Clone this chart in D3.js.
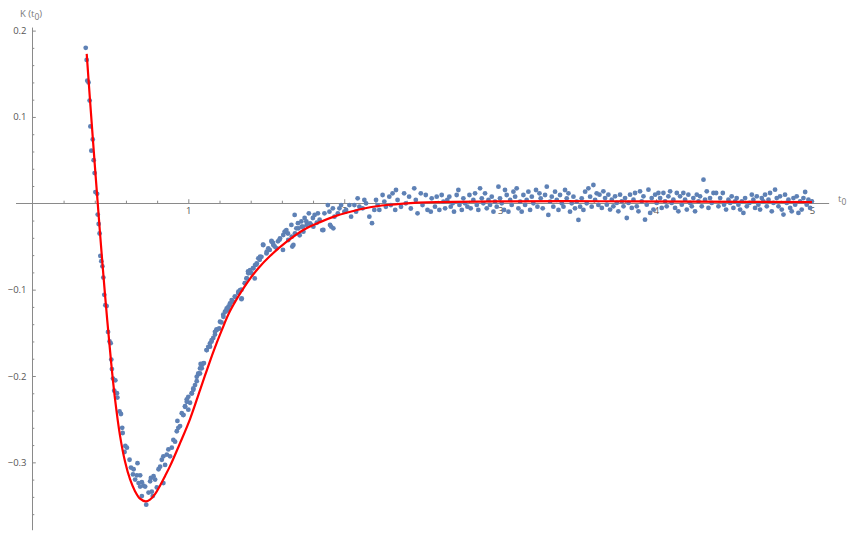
<!DOCTYPE html>
<html>
<head>
<meta charset="utf-8">
<title>K(t0) fit</title>
<script src="https://cdnjs.cloudflare.com/ajax/libs/d3/7.8.5/d3.min.js"></script>
<style>
body { margin: 0; background: #fff; }
svg text { font-family: "Open Sans", sans-serif; }
</style>
</head>
<body>
<svg id="chart" width="865" height="538"></svg>
<script>
// tick values
var xMajor = [1, 2, 3, 4, 5];
var xMinor = [0.2, 0.4, 0.6, 0.8, 1.2, 1.4, 1.6, 1.8, 2.2, 2.4, 2.6, 2.8,
              3.2, 3.4, 3.6, 3.8, 4.2, 4.4, 4.6, 4.8];
var yMajor = [-0.3, -0.2, -0.1, 0.1, 0.2];
var yMinor = [-0.36, -0.34, -0.32, -0.28, -0.26, -0.24, -0.22, -0.18, -0.16, -0.14, -0.12,
              -0.08, -0.06, -0.04, -0.02, 0.02, 0.04, 0.06, 0.08, 0.12, 0.14, 0.16, 0.18];

// measured points, [t0, K]
var descentPts = [[0.342,0.180],[0.348,0.166],[0.352,0.142],[0.360,0.140],[0.367,0.119],[0.372,0.089],
  [0.378,0.061],[0.387,0.074],[0.393,0.050],[0.399,0.035],[0.404,0.013],[0.415,0.011],[0.419,-0.013],
  [0.425,-0.024],[0.431,-0.035],[0.436,-0.061],[0.442,-0.067],[0.449,-0.073],[0.455,-0.086],[0.461,-0.106],
  [0.468,-0.118],[0.476,-0.119],[0.485,-0.149],[0.495,-0.160],[0.502,-0.162],[0.506,-0.181],[0.510,-0.192],
  [0.517,-0.203],[0.525,-0.217],[0.532,-0.205],[0.542,-0.220],[0.545,-0.225],[0.559,-0.241],[0.568,-0.244],
  [0.576,-0.260],[0.579,-0.266],[0.591,-0.288],[0.596,-0.281]];

var troughPts = [[0.606,-0.283],[0.623,-0.297],[0.632,-0.306],[0.645,-0.314],[0.649,-0.308],[0.659,-0.320],
  [0.670,-0.315],[0.674,-0.301],[0.681,-0.324],[0.691,-0.315],[0.691,-0.328],[0.702,-0.323],[0.702,-0.339],
  [0.712,-0.327],[0.723,-0.328],[0.730,-0.349],[0.745,-0.335],[0.755,-0.322],[0.760,-0.318],[0.766,-0.334],
  [0.772,-0.339],[0.777,-0.316],[0.787,-0.320],[0.798,-0.329],[0.809,-0.308],[0.819,-0.305],[0.830,-0.297],
  [0.840,-0.324],[0.840,-0.293],[0.851,-0.303],[0.862,-0.291],[0.872,-0.285],[0.883,-0.293],[0.894,-0.283],
  [0.904,-0.274],[0.915,-0.276],[0.926,-0.264],[0.930,-0.252],[0.936,-0.260],[0.947,-0.258],[0.958,-0.243],
  [0.968,-0.245],[0.979,-0.235],[0.990,-0.227],[1.000,-0.239],[1.011,-0.231],[1.022,-0.220],[1.032,-0.216]];

var risePts = [[1.054,-0.206],[1.064,-0.198],[1.075,-0.197],[1.079,-0.186],[1.086,-0.191],[1.100,-0.185],
  [1.117,-0.170],[1.139,-0.166],[1.149,-0.160],[1.160,-0.156],[1.171,-0.152],[1.181,-0.146],[1.198,-0.145],
  [1.213,-0.138],[1.224,-0.129],[1.241,-0.125],[1.256,-0.123],[1.266,-0.118],[1.288,-0.114],[1.298,-0.108],
  [1.320,-0.104],[1.341,-0.100],[1.341,-0.111],[1.362,-0.0925],[1.373,-0.087],[1.383,-0.079],[1.405,-0.081],
  [1.415,-0.075],[1.426,-0.087],[1.437,-0.071],[1.458,-0.0655],[1.469,-0.062],[1.479,-0.048],[1.501,-0.058],
  [1.522,-0.054],[1.543,-0.046]];

var bandPts = [[0.968,-0.2453],[0.979,-0.2357],[0.990,-0.2299],[1.000,-0.2241],[1.022,-0.2202],[1.032,-0.2144],
  [1.043,-0.2105],[1.054,-0.2009],[1.064,-0.1970],[1.075,-0.1912],[1.086,-0.1874],[1.096,-0.1854],
  [1.118,-0.1700],[1.128,-0.1662],[1.139,-0.1622],[1.150,-0.1584],[1.171,-0.1488],[1.182,-0.1468],
  [1.203,-0.1372],[1.225,-0.1314],[1.235,-0.1256],[1.246,-0.1217],[1.257,-0.1198],[1.267,-0.1159],
  [1.278,-0.1121],[1.300,-0.1082],[1.321,-0.1024],[1.332,-0.1005],[1.342,-0.1101],[1.364,-0.0927],
  [1.375,-0.0869],[1.385,-0.0811],[1.396,-0.0773],[1.417,-0.0753],[1.428,-0.0715],[1.439,-0.0695],
  [1.449,-0.0637],[1.460,-0.0619],[1.481,-0.0483],[1.503,-0.0561],[1.513,-0.0521],[1.535,-0.0445],
  [1.545,-0.0483],[1.567,-0.0521],[1.588,-0.0406],[1.609,-0.0367],[1.620,-0.0329],[1.641,-0.0425],
  [1.663,-0.0387],[1.674,-0.0483],[1.684,-0.0348],[1.706,-0.0290],[1.727,-0.0271],[1.738,-0.0329],
  [1.759,-0.0251],[1.781,-0.0232],[1.802,-0.0271],[1.824,-0.0225],[1.866,-0.0309],[1.909,-0.0251],
  [1.930,-0.0290]];

var kneePts = [[1.533,-0.0436],[1.554,-0.050],[1.575,-0.044],[1.586,-0.042],[1.607,-0.054],[1.618,-0.033],
  [1.629,-0.031],[1.639,-0.035],[1.661,-0.025],[1.667,-0.050],[1.682,-0.0135],[1.693,-0.029],[1.703,-0.023],
  [1.714,-0.037],[1.725,-0.021],[1.735,-0.027],[1.746,-0.017],[1.757,-0.021],[1.773,-0.0116],[1.788,-0.025],
  [1.799,-0.017],[1.810,-0.0135],[1.831,-0.0116],[1.842,-0.019],[1.859,-0.031],[1.873,-0.0116],[1.895,-0.002],
  [1.905,-0.0097],[1.916,-0.027],[1.927,-0.0058],[1.937,-0.0155],[1.959,-0.0116],[1.969,-0.0058],[1.980,-0.002],
  [2.001,-0.0097],[2.012,-0.0077],[2.033,-0.002],[2.044,-0.0155],[2.065,-0.002],[2.076,-0.0097],[2.086,0.0058],
  [2.097,-0.004],[2.118,-0.0058],[2.129,0.0038],[2.140,0],[2.161,-0.0155],[2.178,-0.023],[2.193,-0.0077],
  [2.204,0.0038],[2.214,-0.002],[2.225,-0.0077],[2.246,0.0096],[2.257,0.002],[2.267,-0.004],[2.289,0.0077],
  [2.299,-0.002],[2.310,0.0116],[2.327,-0.0077],[2.332,0.0154],[2.342,0.0038],[2.364,-0.004],[2.384,0.0116],
  [2.395,0],[2.416,0.0077],[2.427,-0.006],[2.449,0.0173],[2.459,0.0038],[2.470,-0.0116],[2.491,0.0116],
  [2.502,-0.002],[2.523,0.0096],[2.534,-0.0077],[2.555,-0.0097]];

var tailPtsA = [[2.561,0.0058],[2.582,-0.0039],[2.593,0.0077],[2.610,-0.0077],[2.625,0.0096],[2.636,0.0019],
  [2.647,-0.0058],[2.661,0.0039],[2.674,0.0077],[2.683,-0.0039],[2.696,0.0],[2.704,-0.0097],[2.721,0.0096],
  [2.732,0.0154],[2.739,-0.0019],[2.754,-0.0077],[2.764,0.0058],[2.775,0.0],[2.790,-0.0039],[2.803,0.0096],
  [2.811,-0.0058],[2.828,0.0039],[2.839,0.0116],[2.850,-0.0019],[2.860,-0.0077],[2.871,0.0174],[2.882,0.0058],
  [2.892,0.0],[2.903,0.0116],[2.914,-0.0058],[2.925,0.0039],[2.935,-0.0019],[2.946,0.0077],[2.957,-0.0097],
  [2.967,0.0019],[2.978,-0.0039],[2.989,0.0193],[2.999,0.0058],[3.010,0.0],[3.025,-0.0077],[3.031,0.0154],
  [3.042,0.0096],[3.053,-0.0097],[3.064,0.0039],[3.074,-0.0019],[3.085,0.0135],[3.096,0.0077],[3.106,0.0174],
  [3.117,-0.0058],[3.128,0.0019],[3.138,-0.0097],[3.149,0.0096],[3.160,-0.0019],[3.170,0.0039],[3.181,0.0135],
  [3.192,-0.0077],[3.203,0.0077],[3.213,0.0],[3.230,0.0154],[3.239,-0.0039],[3.252,0.0116],[3.260,0.0058],
  [3.273,-0.0058],[3.288,0.0096],[3.299,0.0193],[3.309,-0.0135],[3.320,0.0019],[3.331,0.0077],[3.341,-0.0039],
  [3.352,0.0135],[3.363,0.0039],[3.374,-0.0077],[3.384,0.0096],[3.395,0.0],[3.406,-0.0039],[3.416,0.0154],
  [3.427,0.0058],[3.438,0.0116],[3.448,-0.0097],[3.459,0.0],[3.470,0.0077],[3.480,-0.0058],[3.491,0.0019],
  [3.502,-0.0193],[3.513,-0.0039],[3.523,0.0058],[3.534,-0.0077],[3.545,0.0135],[3.555,0.0],[3.566,0.0174],
  [3.577,0.0077],[3.587,-0.0039],[3.598,0.0212],[3.609,0.0039],[3.619,0.0116],[3.630,-0.0019]];

var tailPtsB = [[3.637,0.0100],[3.652,-0.0054],[3.662,0.0139],[3.673,0.0061],[3.684,-0.0016],[3.694,0.0100],
  [3.705,-0.0073],[3.716,0.0042],[3.726,-0.0035],[3.737,0.0081],[3.748,0.0004],[3.758,-0.0093],[3.769,0.0100],
  [3.780,0.0023],[3.791,-0.0035],[3.801,0.0061],[3.812,-0.0170],[3.823,0.0004],[3.833,0.0100],[3.844,-0.0054],
  [3.855,0.0042],[3.865,0.0119],[3.876,-0.0035],[3.887,-0.0093],[3.897,0.0139],[3.908,0.0023],[3.919,0.0081],
  [3.929,-0.0190],[3.940,-0.0016],[3.951,0.0158],[3.962,-0.0112],[3.972,0.0061],[3.983,-0.0073],[3.994,0.0100],
  [4.004,0.0004],[4.015,0.0119],[4.026,0.0061],[4.036,-0.0054],[4.047,0.0119],[4.058,0.0023],[4.068,-0.0035],
  [4.079,0.0081],[4.090,0.0139],[4.100,0.0004],[4.111,0.0042],[4.122,-0.0054],[4.133,0.0119],[4.143,-0.0093],
  [4.154,0.0081],[4.165,-0.0016],[4.175,0.0119],[4.186,0.0042],[4.197,-0.0073],[4.207,0.0100],[4.218,0.0004],
  [4.229,-0.0035],[4.239,0.0061],[4.250,-0.0093],[4.261,0.0100],[4.272,0.0023],[4.282,0.0081],[4.293,-0.0035],
  [4.304,0.0274],[4.314,0.0042],[4.325,0.0139],[4.336,-0.0054],[4.346,0.0061],[4.357,0.0004],[4.368,0.0119]];

var tailPtsC = [[4.385,0.0119],[4.400,-0.0035],[4.411,0.0061],[4.428,0.0119],[4.436,-0.0016],[4.449,-0.0073],
  [4.464,0.0042],[4.475,0.0004],[4.485,0.0081],[4.496,-0.0054],[4.507,0.0023],[4.517,0.0061],[4.528,-0.0016],
  [4.539,-0.0073],[4.550,0.0023],[4.560,-0.0112],[4.571,0.0061],[4.582,-0.0035],[4.599,0.0004],[4.614,0.0100],
  [4.624,0.0042],[4.635,-0.0054],[4.646,0.0081],[4.656,-0.0016],[4.667,-0.0073],[4.678,0.0061],[4.688,0.0023],
  [4.699,0.0100],[4.710,-0.0035],[4.721,0.0042],[4.731,0.0119],[4.742,-0.0093],[4.753,0.0004],[4.763,0.0158],
  [4.774,0.0061],[4.785,-0.0035],[4.795,0.0081],[4.806,-0.0073],[4.817,-0.0131],[4.827,0.0100],[4.838,0.0004],
  [4.849,0.0042],[4.860,-0.0054],[4.870,-0.0093],[4.881,0.0061],[4.892,-0.0016],[4.902,0.0081],[4.913,-0.0112],
  [4.924,0.0023],[4.934,-0.0073],[4.945,0.0061],[4.956,0.0131],[4.966,-0.0016],[4.977,0.0042],[4.988,-0.0054],
  [4.999,0.0023]];

// fitted curve, [t0, K]
var fitCurve = [[0.3483,0.1730],[0.3695,0.1195],[0.4015,0.0413],[0.4336,-0.0344],[0.4657,-0.1057],
  [0.5042,-0.1827],[0.5298,-0.2265],[0.5619,-0.2690],[0.5940,-0.2990],[0.6260,-0.3195],
  [0.6581,-0.3334],[0.6902,-0.3421],[0.7267,-0.3453],[0.7543,-0.3432],[0.7864,-0.3368],[0.8185,-0.3270],
  [0.8505,-0.3160],[0.8826,-0.3044],[0.9468,-0.2778],[1.0109,-0.2499],[1.0750,-0.2163],[1.1180,-0.1937],
  [1.1604,-0.1720],[1.2133,-0.1475],[1.2675,-0.1248],[1.3746,-0.0927],[1.4490,-0.0752],[1.5240,-0.0610],
  [1.6310,-0.0445],[1.7376,-0.0309],[1.8448,-0.0218],[1.9519,-0.0143],[2.0584,-0.0089],
  [2.1655,-0.0046],[2.2726,-0.0020],[2.3791,-0.0003],[2.5934,0.0013],[3.0,0.0022],[3.64,0.0024],
  [4.28,0.0019],[5.0,0.0013]];

var allPts = [].concat(descentPts, troughPts, risePts, bandPts, kneePts, tailPtsA, tailPtsB, tailPtsC);

var svg = d3.select("#chart");
var x = d3.scaleLinear().domain([0, 5]).range([32.4, 812]);
var y = d3.scaleLinear().domain([0, 0.2]).range([203.3, 30.6]);

var axisColor = "#8a8a8a";
var labelColor = "#555";

// axis lines
svg.append("line")
    .attr("x1", x(-0.105)).attr("x2", x(5.11))
    .attr("y1", Math.round(y(0)) + 0.5).attr("y2", Math.round(y(0)) + 0.5)
    .attr("stroke", axisColor);
svg.append("line")
    .attr("x1", Math.round(x(0)) + 0.5).attr("x2", Math.round(x(0)) + 0.5)
    .attr("y1", y(0.2035)).attr("y2", y(-0.3786))
    .attr("stroke", axisColor);

function styleAxis(g) {
    g.select(".domain").remove();
    g.selectAll(".tick line").attr("stroke", axisColor);
    g.selectAll(".tick text").attr("fill", labelColor).attr("font-size", "9.5px")
        .style("font-family", "'Open Sans', sans-serif");
}

var xAxisY = Math.round(y(0));
var yAxisX = Math.round(x(0));

svg.append("g").attr("transform", "translate(0," + xAxisY + ")")
    .call(d3.axisBottom(x).tickValues(xMinor).tickSizeInner(-2.3).tickSizeOuter(0).tickFormat(""))
    .call(styleAxis);
svg.append("g").attr("transform", "translate(0," + xAxisY + ")")
    .call(d3.axisBottom(x).tickValues(xMajor).tickSizeInner(-3.8).tickSizeOuter(0)
        .tickPadding(4).tickFormat(d3.format("d")))
    .call(styleAxis);

svg.append("g").attr("transform", "translate(" + yAxisX + ",0)")
    .call(d3.axisLeft(y).tickValues(yMinor).tickSizeInner(-2.3).tickSizeOuter(0).tickFormat(""))
    .call(styleAxis);
svg.append("g").attr("transform", "translate(" + yAxisX + ",0)")
    .call(d3.axisLeft(y).tickValues(yMajor).tickSizeInner(-3.8).tickSizeOuter(0)
        .tickPadding(5.5).tickFormat(d3.format(".1f")))
    .call(styleAxis);

// axis labels
var kLab = svg.append("text").attr("x", 20).attr("y", 16.5)
    .attr("fill", "#777").attr("font-size", "9.5px").text("K (t");
kLab.append("tspan").attr("dy", 3).attr("font-size", "8.5px").text("0");
kLab.append("tspan").attr("dy", -3).text(")");

var tLab = svg.append("text").attr("x", 838).attr("y", 202)
    .attr("fill", "#777").attr("font-size", "9.5px").text("t");
tLab.append("tspan").attr("dy", 3).attr("font-size", "8.5px").text("0");

// data points
svg.append("g").selectAll("circle")
    .data(allPts)
    .enter().append("circle")
    .attr("cx", function (d) { return x(d[0]); })
    .attr("cy", function (d) { return y(d[1]); })
    .attr("r", 2.4)
    .attr("fill", "#5e81b5");

// fitted curve
var line = d3.line()
    .x(function (d) { return x(d[0]); })
    .y(function (d) { return y(d[1]); })
    .curve(d3.curveCatmullRom.alpha(0.5));

svg.append("path")
    .datum(fitCurve)
    .attr("d", line)
    .attr("fill", "none")
    .attr("stroke", "#ff0000")
    .attr("stroke-width", 2.2)
    .attr("stroke-linejoin", "round");
</script>
</body>
</html>
